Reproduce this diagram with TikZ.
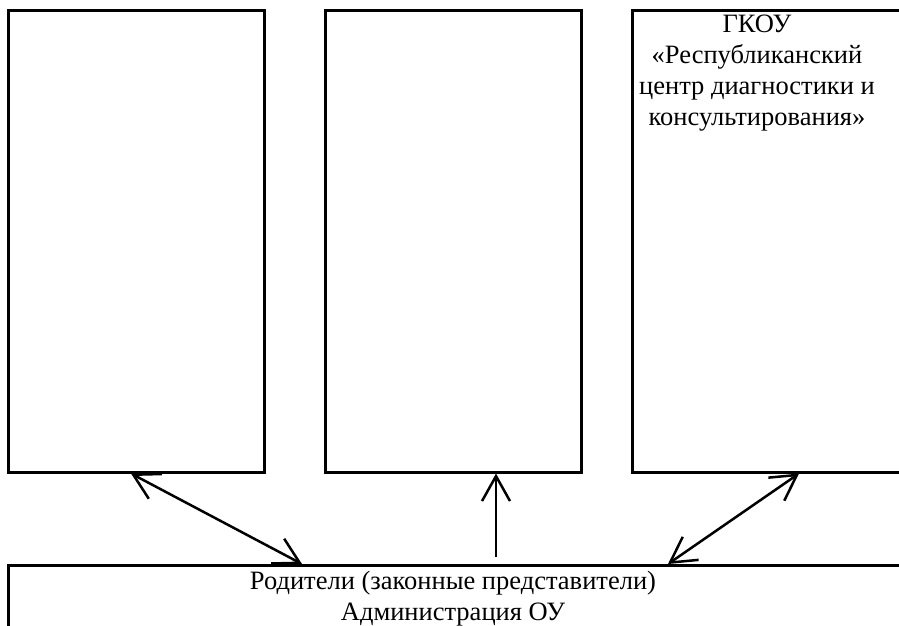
\documentclass[tikz,border=0pt]{standalone}
\usepackage{fontspec}
\setmainfont{Liberation Serif}
\usetikzlibrary{arrows.meta}
\begin{document}
\begin{tikzpicture}[x=1pt,y=-1pt,
  box/.style={draw,line width=2.5pt,rectangle,inner sep=0pt,anchor=north west},
  lbl/.style={inner sep=0pt,align=center,font=\fontsize{26.5}{31}\selectfont},
  arr/.style={line width=2.5pt,{Straight Barb[length=25pt,width=28pt]}-{Straight Barb[length=25pt,width=28pt]}},
  uarr/.style={line width=2.5pt,-{Straight Barb[length=25pt,width=28pt]}}]
\useasboundingbox (0,0) rectangle (899,625);
\clip (0,0) rectangle (899,625);
\fill[white] (0,0) rectangle (899,625);
\node[box,minimum width=256pt,minimum height=462pt] (L) at (7,9) {};
\node[box,minimum width=256pt,minimum height=462pt] (M) at (324,9) {};
\node[box,minimum width=280pt,minimum height=462pt] (R) at (631,9) {};
\node[box,minimum width=910pt,minimum height=100pt] (B) at (7,564) {};
\node[lbl,anchor=north] (rt) at (757,15) {ГКОУ\\«Республиканский\\центр диагностики и\\консультирования»};
\node[lbl,anchor=north] (bt) at (453,571) {Родители (законные представители)\\Администрация ОУ};
\draw[arr] ([xshift=124pt]L.south west) -- ([xshift=295pt]B.north west);
\draw[uarr,shorten <=7pt] ([xshift=489pt]B.north west) -- ([xshift=172pt]M.south west);
\draw[arr] ([xshift=661pt]B.north west) -- ([xshift=168pt]R.south west);
\end{tikzpicture}
\end{document}
